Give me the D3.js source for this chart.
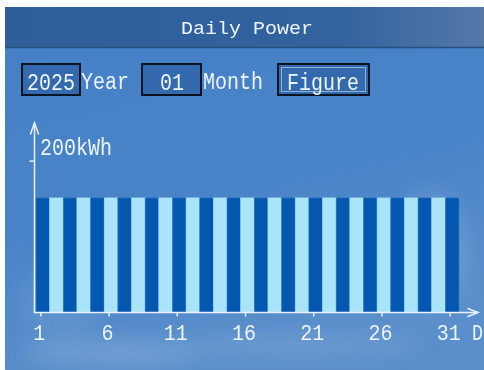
<!DOCTYPE html>
<html>
<head>
<meta charset="utf-8">
<script src="https://cdn.jsdelivr.net/npm/d3@7"></script>
<style>
  html, body { margin: 0; padding: 0; background: #ffffff; }
  svg { display: block; }
  text { font-family: "Liberation Mono", "DejaVu Sans Mono", monospace; fill: #eef4fb; }
</style>
</head>
<body>
<svg id="chart" width="484" height="370"></svg>
<script>
// Daily energy, January 2025
const days = [1, 2, 3, 4, 5, 6, 7, 8, 9, 10, 11, 12, 13, 14, 15, 16,
              17, 18, 19, 20, 21, 22, 23, 24, 25, 26, 27, 28, 29, 30, 31];
const dailyKWh = [151, 151, 151, 151, 151, 151, 151, 151, 151, 151, 151,
                  151, 151, 151, 151, 151, 151, 151, 151, 151, 151, 151,
                  151, 151, 151, 151, 151, 151, 151, 151, 151];
const dayTicks = [1, 6, 11, 16, 21, 26, 31];
const yTicks = [200];
const yUnit = "kWh";
const title = "Daily Power";
const yearValue = "2025";
const monthValue = "01";

const svg = d3.select("#chart");
const defs = svg.append("defs");

// Screen background: sky-blue body and darker title bar
const bodyGrad = defs.append("linearGradient").attr("id", "bodyGrad")
  .attr("x1", 0).attr("y1", 0).attr("x2", 0.3).attr("y2", 1);
bodyGrad.append("stop").attr("offset", 0).attr("stop-color", "#447fc6");
bodyGrad.append("stop").attr("offset", 0.6).attr("stop-color", "#4a84c8");
bodyGrad.append("stop").attr("offset", 1).attr("stop-color", "#5b8fcb");

const headGrad = defs.append("linearGradient").attr("id", "headGrad")
  .attr("x1", 0).attr("y1", 0).attr("x2", 1).attr("y2", 0);
headGrad.append("stop").attr("offset", 0).attr("stop-color", "#2e5e9a");
headGrad.append("stop").attr("offset", 0.7).attr("stop-color", "#33639e");
headGrad.append("stop").attr("offset", 1).attr("stop-color", "#5578a8");

const haze = defs.append("filter").attr("id", "haze")
  .attr("x", "-50%").attr("y", "-50%").attr("width", "200%").attr("height", "200%");
haze.append("feGaussianBlur").attr("stdDeviation", 10);

svg.append("rect").attr("x", 5).attr("y", 7).attr("width", 479).attr("height", 363)
  .attr("fill", "url(#bodyGrad)");

// soft cloud streaks
const clouds = svg.append("g").attr("filter", "url(#haze)").attr("fill", "#b9d3ee");
[[110, 352, 90, 10, 0.3], [300, 345, 120, 8, 0.22], [430, 250, 40, 60, 0.16], [60, 300, 40, 40, 0.1]]
  .forEach(([cx, cy, rx, ry, op]) => {
    clouds.append("ellipse").attr("cx", cx).attr("cy", cy).attr("rx", rx).attr("ry", ry)
      .attr("opacity", op);
  });

svg.append("rect").attr("x", 5).attr("y", 7).attr("width", 479).attr("height", 40)
  .attr("fill", "url(#headGrad)");
svg.append("line").attr("x1", 5).attr("x2", 484).attr("y1", 47.5).attr("y2", 47.5)
  .attr("stroke", "#27507f").attr("stroke-width", 1.5);

// Text helper: tall narrow glyphs on a 12px character grid
function label(g, str, x, y, size, anchor, cell) {
  cell = cell || 12;
  return g.append("text")
    .attr("x", x).attr("y", y)
    .attr("font-size", size)
    .attr("text-anchor", anchor || "start")
    .attr("textLength", str.length * cell)
    .attr("lengthAdjust", "spacingAndGlyphs")
    .text(str);
}

label(svg, title, 247, 34, 18, "middle");

// Selector row: year box, month box, figure button
const row = svg.append("g");
row.append("rect").attr("x", 22).attr("y", 64).attr("width", 58).attr("height", 31)
  .attr("fill", "#336aae").attr("stroke", "#0b1422").attr("stroke-width", 2);
label(row, yearValue, 51, 90, 24, "middle");
label(row, "Year", 81, 89, 23);

row.append("rect").attr("x", 142).attr("y", 64).attr("width", 59).attr("height", 31)
  .attr("fill", "#336aae").attr("stroke", "#0b1422").attr("stroke-width", 2);
label(row, monthValue, 172, 90, 24, "middle");
label(row, "Month", 203, 89, 23);

row.append("rect").attr("x", 278).attr("y", 64).attr("width", 91).attr("height", 31)
  .attr("fill", "#336aae").attr("stroke", "#0b1422").attr("stroke-width", 2);
row.append("rect").attr("x", 281.5).attr("y", 67.5).attr("width", 84).attr("height", 24)
  .attr("fill", "none").attr("stroke", "#f2f7fd").attr("stroke-width", 1)
  .attr("stroke-dasharray", "1,1");
label(row, "Figure", 323, 90, 23, "middle");

// Scales
const x = d3.scaleBand().domain(days).range([36, 459]).paddingInner(0).paddingOuter(0);
const y = d3.scaleLinear().domain([0, 200]).range([312.5, 160.7]);

// Bars, alternating dark and light blue
svg.append("g").selectAll("rect").data(days).join("rect")
  .attr("x", d => x(d))
  .attr("y", (d, i) => y(dailyKWh[i]))
  .attr("width", x.bandwidth())
  .attr("height", (d, i) => y(0) - y(dailyKWh[i]))
  .attr("fill", (d, i) => i % 2 === 0 ? "#0558b0" : "#aae4f8")
  .attr("stroke", (d, i) => i % 2 === 0 ? "#2f78c4" : "#9fdcf2")
  .attr("stroke-width", 0.6);

// Axes
const axisColor = "#eaf2fb";
const x0 = 34.5;
const yBase = y(0);

const xAxis = d3.axisBottom(x).tickValues(dayTicks).tickSize(4).tickSizeOuter(0).tickPadding(3);
const gx = svg.append("g").attr("transform", `translate(-2,${yBase})`).call(xAxis);
gx.select(".domain").remove();
gx.selectAll(".tick line").attr("stroke", axisColor).attr("stroke-width", 1.5);
gx.selectAll(".tick text")
  .attr("font-size", 22)
  .attr("font-family", "Liberation Mono, monospace")
  .attr("fill", "#eef4fb")
  .attr("dy", "0.95em")
  .attr("transform", "translate(-1.5,0)")
  .attr("textLength", d => String(d).length * 12)
  .attr("lengthAdjust", "spacingAndGlyphs");

const yAxis = d3.axisLeft(y).tickValues(yTicks).tickSize(5).tickFormat("");
const gy = svg.append("g").attr("transform", `translate(${x0},0)`).call(yAxis);
gy.select(".domain").remove();
gy.selectAll(".tick line").attr("stroke", axisColor).attr("stroke-width", 1.5);
label(svg, yTicks[0] + yUnit, 40, 155, 23);

const axes = svg.append("g").attr("stroke", axisColor).attr("stroke-width", 1.5)
  .attr("fill", "none").attr("stroke-linecap", "round");
// vertical axis with open arrowhead
axes.append("line").attr("x1", x0).attr("x2", x0).attr("y1", yBase).attr("y2", 123);
axes.append("polyline").attr("points", `${x0 - 4},134 ${x0},123 ${x0 + 4},134`);
// horizontal axis with open arrowhead
axes.append("line").attr("x1", x0).attr("x2", 478).attr("y1", yBase).attr("y2", yBase);
axes.append("polyline").attr("points", `468,${yBase - 4} 478,${yBase} 468,${yBase + 4}`);

label(svg, "D", 472, 340, 22, "start", 11);
</script>
</body>
</html>
